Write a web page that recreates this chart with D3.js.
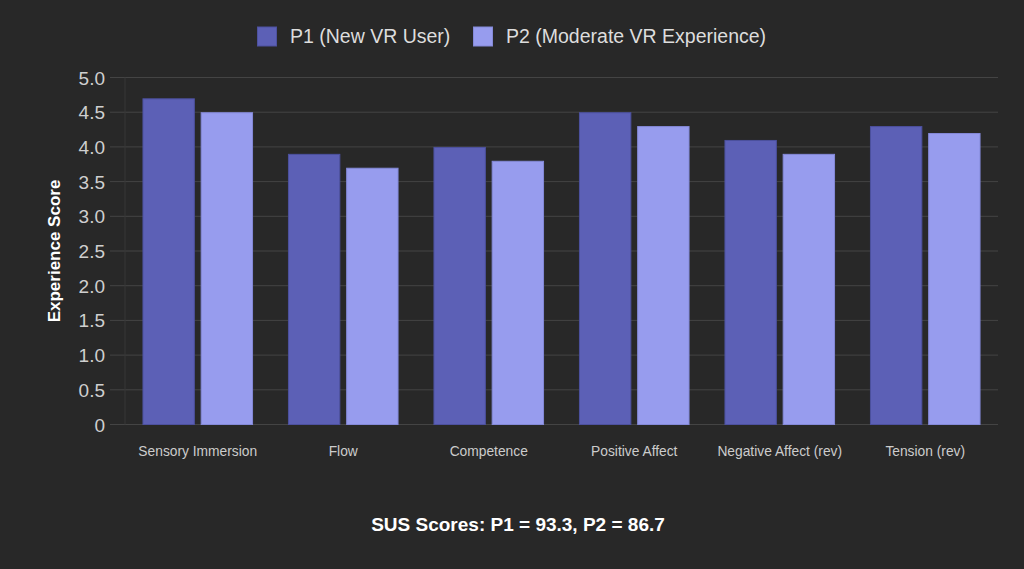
<!DOCTYPE html>
<html>
  <head>
    <meta charset="utf-8">
    <script src="https://cdn.jsdelivr.net/npm/d3@7/dist/d3.min.js" charset="utf-8"></script>
    <style>
      body { margin: 0; background: #282828; }
      text { font-family: "Liberation Sans", Arial, sans-serif; }
    </style>
  </head>
  <body>
    <script type="text/javascript">
      var w = 1024;
      var h = 569;

      var categories = ["Sensory Immersion", "Flow", "Competence", "Positive Affect", "Negative Affect (rev)", "Tension (rev)"];
      var seriesNames = ["P1 (New VR User)", "P2 (Moderate VR Experience)"];
      var p1 = [4.7, 3.9, 4.0, 4.5, 4.1, 4.3];
      var p2 = [4.5, 3.7, 3.8, 4.3, 3.9, 4.2];
      var yTicks = [0, 0.5, 1.0, 1.5, 2.0, 2.5, 3.0, 3.5, 4.0, 4.5, 5.0];
      var fills = ["#5c60b6", "#979cee"];
      var strokes = ["#4d519f", "#8489d8"];

      // plot area (avoid the global name "top")
      var plotL = 125, plotR = 998, plotT = 77.5, plotB = 424.5;

      var svg = d3.select("body")
                  .append("svg")
                    .attr("width", w)
                    .attr("height", h);

      var x = d3.scaleBand().domain(categories).range([plotL, plotR]);
      var x1 = d3.scaleBand().domain([0, 1]).range([0, x.bandwidth() * 0.8]);
      var y = d3.scaleLinear().domain([0, 5]).range([plotB, plotT]);

      // grid
      svg.selectAll("line.grid")
         .data(yTicks)
         .enter()
         .append("line")
           .attr("class", "grid")
           .attr("x1", plotL - 15)
           .attr("x2", plotR)
           .attr("y1", function(d){ return y(d); })
           .attr("y2", function(d){ return y(d); })
           .attr("stroke", "#444")
           .attr("stroke-width", 1);

      svg.append("line")
         .attr("x1", plotL).attr("x2", plotL)
         .attr("y1", plotT).attr("y2", plotB)
         .attr("stroke", "#363636");

      // y tick labels
      svg.selectAll("text.ytick")
         .data(yTicks)
         .enter()
         .append("text")
           .attr("class", "ytick")
           .text(function(d){ return d === 0 ? "0" : d.toFixed(1); })
           .attr("x", plotL - 20)
           .attr("y", function(d){ return y(d) + 7; })
           .attr("text-anchor", "end")
           .attr("font-size", 19)
           .attr("fill", "#cfcfcf");

      // x labels
      svg.selectAll("text.xtick")
         .data(categories)
         .enter()
         .append("text")
           .attr("class", "xtick")
           .text(function(d){ return d; })
           .attr("x", function(d){ return x(d) + x.bandwidth() / 2; })
           .attr("y", 456)
           .attr("text-anchor", "middle")
           .attr("font-size", 13.8)
           .attr("fill", "#cccccc");

      // bars
      [p1, p2].forEach(function(series, s){
        svg.selectAll("rect.s" + s)
           .data(series)
           .enter()
           .append("rect")
             .attr("class", "s" + s)
             .attr("x", function(d, i){
               var slot = x1.bandwidth();
               return x(categories[i]) + x.bandwidth() * 0.1 + x1(s) + slot * 0.05 + 0.5;
             })
             .attr("y", function(d){ return y(d) + 0.5; })
             .attr("width", x1.bandwidth() * 0.9 - 1)
             .attr("height", function(d){ return y(0) - y(d) - 0.5; })
             .attr("fill", fills[s])
             .attr("stroke", strokes[s])
             .attr("stroke-width", 1);
      });

      // y axis title
      svg.append("text")
         .text("Experience Score")
         .attr("transform", "translate(60," + ((plotT + plotB) / 2) + ") rotate(-90)")
         .attr("text-anchor", "middle")
         .attr("font-size", 17)
         .attr("font-weight", "bold")
         .attr("fill", "#ffffff");

      // legend
      var legendX = [257, 473];
      seriesNames.forEach(function(name, s){
        svg.append("rect")
           .attr("x", legendX[s] + 0.5).attr("y", 27)
           .attr("width", 19).attr("height", 19)
           .attr("fill", fills[s])
           .attr("stroke", strokes[s]);
        svg.append("text")
           .text(name)
           .attr("x", legendX[s] + 33)
           .attr("y", 42.5)
           .attr("font-size", 19.5)
           .attr("fill", "#dddddd");
      });

      // footer
      svg.append("text")
         .text("SUS Scores: P1 = 93.3, P2 = 86.7")
         .attr("x", 518)
         .attr("y", 531)
         .attr("text-anchor", "middle")
         .attr("font-size", 19)
         .attr("font-weight", "bold")
         .attr("fill", "#ffffff");
    </script>
  </body>
</html>
